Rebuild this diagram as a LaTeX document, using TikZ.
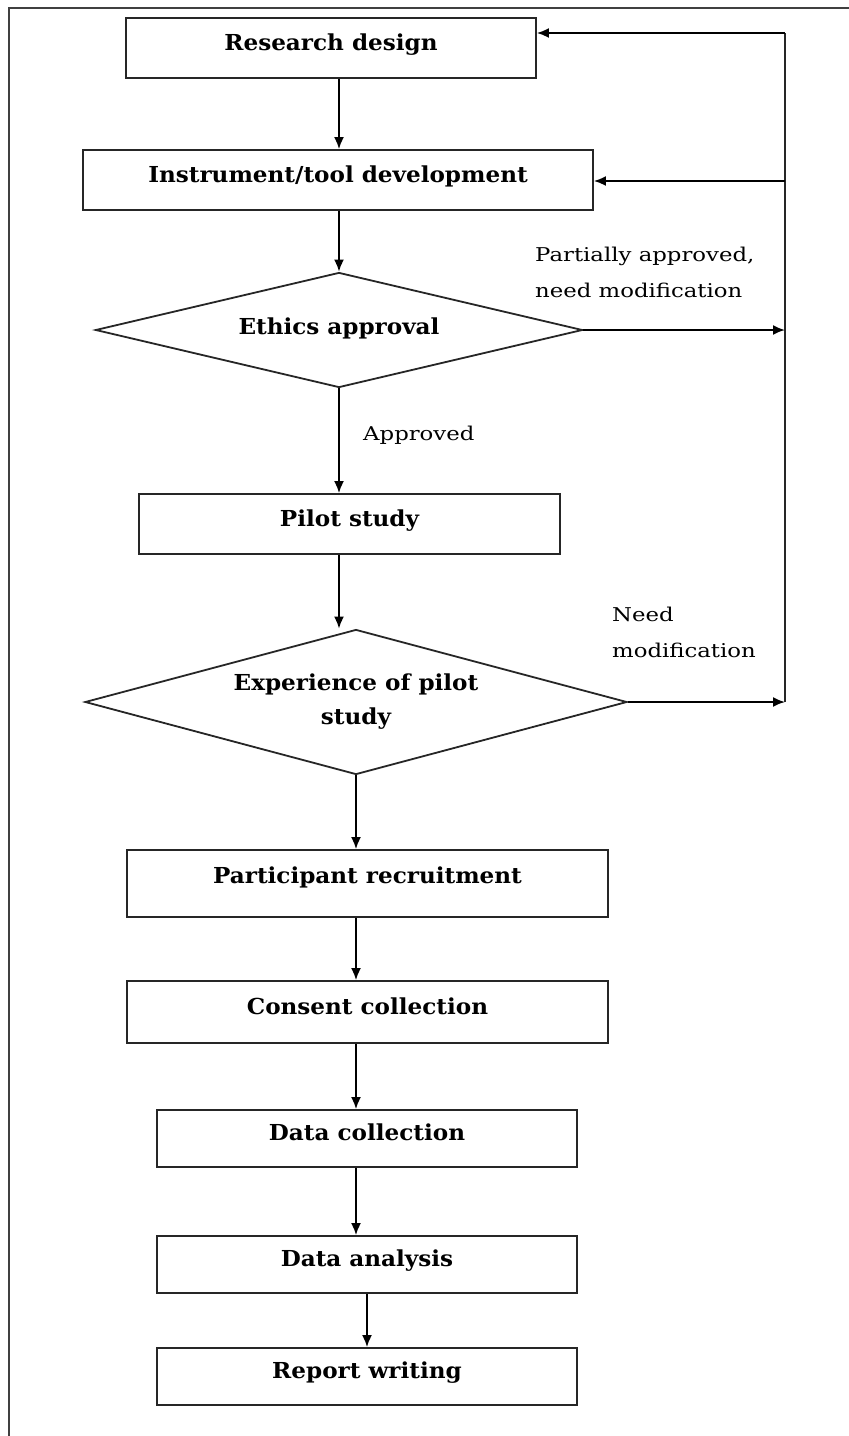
\documentclass[tikz,border=0pt]{standalone}
\usepackage{fontspec}
\setmainfont{DejaVu Serif}[FakeStretch=1.05]
\newfontfamily\lblfont{DejaVu Serif}[FakeStretch=1.2]
\usetikzlibrary{arrows.meta,shapes.geometric}
\tikzset{
  box/.style={draw=black!85, line width=1.8pt, rectangle, inner sep=0pt, font=\fontsize{22}{34}\selectfont\bfseries, align=center, text height=16pt, text depth=12pt},
  dia/.style={draw=black!85, line width=1.8pt, diamond, aspect=4, inner sep=0pt, font=\fontsize{22}{34}\selectfont\bfseries, align=center},
  arr/.style={draw=black, line width=1.9pt, -{Latex[length=12pt,width=10pt]}},
  line/.style={draw=black!85, line width=1.9pt},
  lbl/.style={font=\lblfont\fontsize{19}{36}\selectfont, align=left, inner sep=0pt},
  frame/.style={draw=black!75, line width=2pt}
}
\begin{document}
\begin{tikzpicture}[x=1pt,y=-1pt]
\useasboundingbox (0,0) rectangle (849,1436);
\draw[frame] (9,1436) -- (9,8) -- (849,8);

\node[box, minimum width=410pt, minimum height=60pt] (rd) at (331,48) {Research design};
\node[box, minimum width=510pt, minimum height=60pt] (inst) at (338,180) {Instrument/tool development};
\node[dia, minimum width=487pt, minimum height=115pt] (eth) at (339,330) {\raisebox{7pt}{Ethics approval}};
\node[box, minimum width=421pt, minimum height=60pt] (pilot) at (349.5,524) {Pilot study};
\node[dia, minimum width=542pt, minimum height=145pt] (exp) at (356,702) {Experience of pilot\\study};
\node[box, minimum width=481pt, minimum height=67pt, text depth=17pt] (part) at (367.5,883.5) {Participant recruitment};
\node[box, minimum width=481pt, minimum height=62pt] (cons) at (367.5,1012) {Consent collection};
\node[box, minimum width=420pt, minimum height=57pt] (dcol) at (367,1138.5) {Data collection};
\node[box, minimum width=420pt, minimum height=57pt] (dana) at (367,1264.5) {Data analysis};
\node[box, minimum width=420pt, minimum height=57pt] (rep) at (367,1376.5) {Report writing};

\coordinate (fbtop) at (785,33);
\coordinate (fbinst) at (785,181);
\coordinate (fbbot) at (785,702);

% main flow
\draw[arr] (rd.south -| eth.south) -- (inst.north -| eth.south);
\draw[arr] (inst.south -| eth.south) -- (eth.north);
\draw[arr] (eth.south) -- (eth.south |- pilot.north);
\draw[arr] (pilot.south -| eth.south) -- (exp.north -| eth.south);
\draw[arr] (exp.south) -- (exp.south |- part.north);
\draw[arr] (part.south -| exp.south) -- (cons.north -| exp.south);
\draw[arr] (cons.south -| exp.south) -- (dcol.north -| exp.south);
\draw[arr] (dcol.south -| exp.south) -- (dana.north -| exp.south);
\draw[arr] (dana.south) -- (rep.north);

% feedback loop
\draw[line] (fbbot) -- (fbtop);
\draw[arr] (eth.east) -- (eth.east -| fbtop);
\draw[arr] (exp.east) -- (fbbot);
\draw[arr] (fbtop) -- (fbtop -| rd.east);
\draw[arr] (fbinst) -- (fbinst -| inst.east);

% labels
\node[lbl, anchor=west] (lapp) at (363,435) {Approved};
\node[lbl, anchor=west] (lpart) at (535,272) {Partially approved,\\need modification};
\node[lbl, anchor=west] (lneed) at (612,632) {Need\\modification};
\end{tikzpicture}
\end{document}
